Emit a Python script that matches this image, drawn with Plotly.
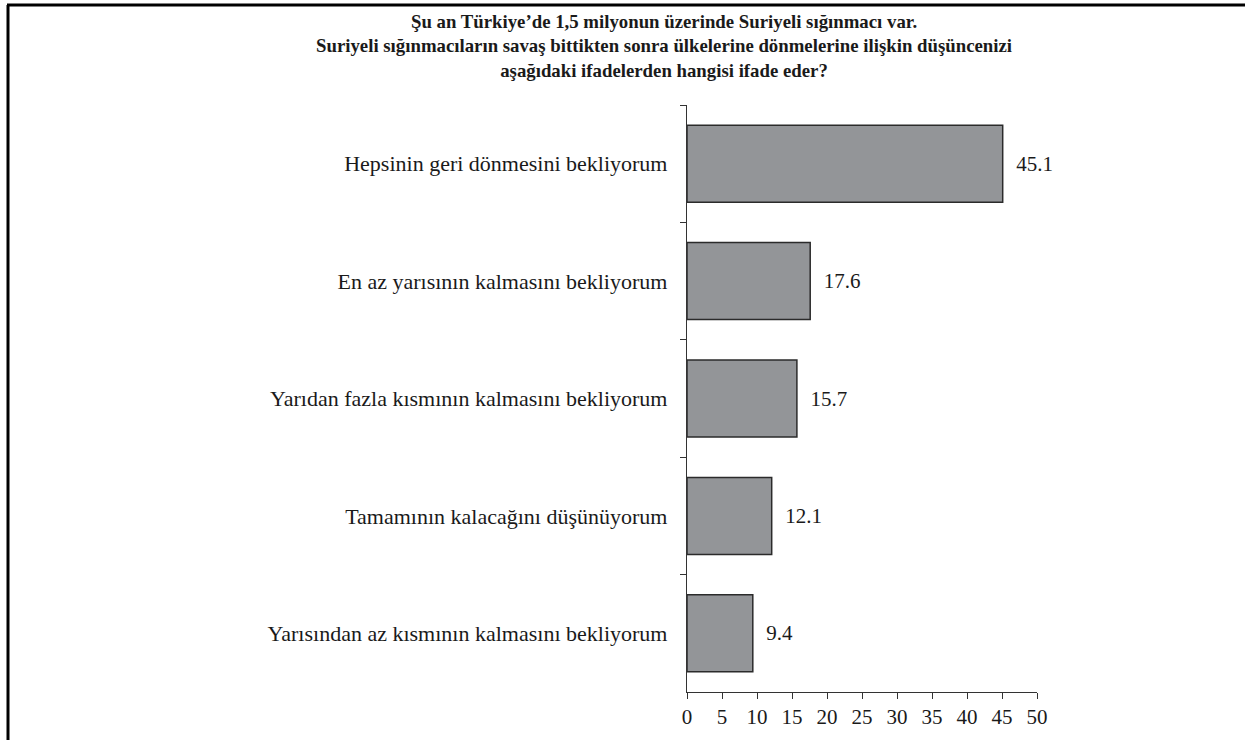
import plotly.graph_objects as go

categories = [
    "Hepsinin geri dönmesini bekliyorum",
    "En az yarısının kalmasını bekliyorum",
    "Yarıdan fazla kısmının kalmasını bekliyorum",
    "Tamamının kalacağını düşünüyorum",
    "Yarısından az kısmının kalmasını bekliyorum",
]
values = [45.1, 17.6, 15.7, 12.1, 9.4]
x_ticks = [0, 5, 10, 15, 20, 25, 30, 35, 40, 45, 50]
title_lines = [
    "Şu an Türkiye’de 1,5 milyonun üzerinde Suriyeli sığınmacı var.",
    "Suriyeli sığınmacıların savaş bittikten sonra ülkelerine dönmelerine ilişkin düşüncenizi",
    "aşağıdaki ifadelerden hangisi ifade eder?",
]

W, H = 1245, 740
L, R, T, B = 687, 1037, 105, 692

FONT = "Liberation Serif"

fig = go.Figure()
fig.add_trace(go.Bar(
    y=categories,
    x=values,
    orientation="h",
    marker=dict(color="#939598", line=dict(color="#2b2b2b", width=1.5)),
    text=[f"{v:.1f}" for v in values],
    texttemplate="  %{text}",
    textposition="outside",
    textfont=dict(family=FONT, size=21, color="#1a1a1a"),
    cliponaxis=False,
    hoverinfo="skip",
))

def px_x(p):
    return (p - L) / (R - L)

def px_y(p):
    return (B - p) / (B - T)

fig.update_layout(
    width=W, height=H,
    margin=dict(l=L, r=W - R, t=T, b=H - B, pad=0),
    paper_bgcolor="white",
    plot_bgcolor="white",
    bargap=0.344,
    showlegend=False,
    xaxis=dict(
        range=[0, 50],
        tickvals=x_ticks,
        ticks="outside", ticklen=6, tickwidth=1.3, tickcolor="#333",
        showline=True, linecolor="#333", linewidth=1.3,
        showgrid=False, zeroline=False,
        tickfont=dict(family=FONT, size=21, color="#1a1a1a"),
        fixedrange=True,
    ),
    yaxis=dict(
        type="category",
        autorange="reversed",
        tickson="boundaries",
        ticks="outside", ticklen=6, tickwidth=1.3, tickcolor="#333",
        showline=True, linecolor="#333", linewidth=1.3,
        showgrid=False, zeroline=False,
        tickfont=dict(family=FONT, size=22, color="#1a1a1a"),
        ticklabelstandoff=14,
        fixedrange=True,
    ),
    annotations=[
        dict(
            text="<br>".join(title_lines),
            xref="paper", yref="paper",
            x=px_x(664), y=px_y(46),
            xanchor="center", yanchor="middle",
            showarrow=False, align="center",
            font=dict(family=FONT, size=18.8, color="#1a1a1a", weight="bold"),
        )
    ],
    shapes=[
        dict(type="line", xref="paper", yref="paper",
             x0=px_x(7), x1=px_x(W + 5), y0=px_y(5), y1=px_y(5),
             line=dict(color="black", width=3)),
        dict(type="line", xref="paper", yref="paper",
             x0=px_x(8), x1=px_x(8), y0=px_y(5), y1=px_y(H + 5),
             line=dict(color="black", width=3)),
    ],
)

fig.write_html(
    "out.html",
    config={"displayModeBar": False},
    post_script="document.body.style.margin='0';",
)
